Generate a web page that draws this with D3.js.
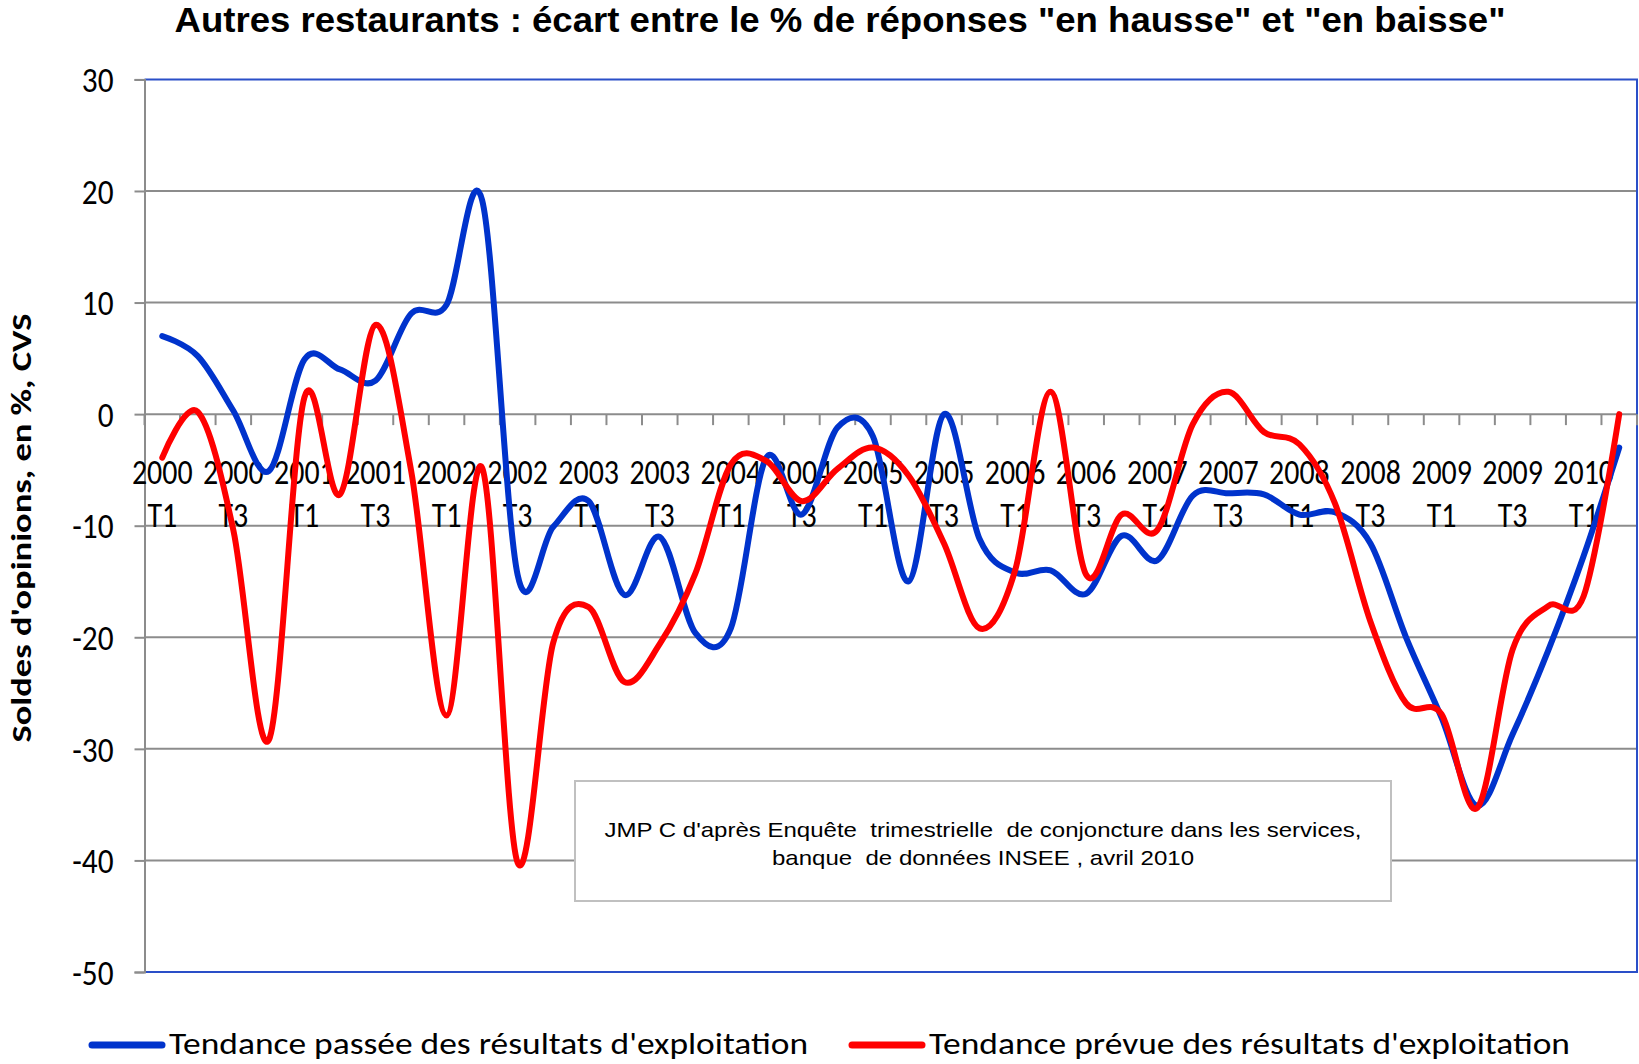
<!DOCTYPE html>
<html><head><meta charset="utf-8">
<script src="https://cdn.jsdelivr.net/npm/d3@7"></script>
<style>body{margin:0;background:#fff}svg{display:block}</style>
</head><body>
<svg id="c" width="1639" height="1064"></svg>
<script>
const categories = [
  "2000 T1","2000 T2","2000 T3","2000 T4","2001 T1","2001 T2","2001 T3","2001 T4",
  "2002 T1","2002 T2","2002 T3","2002 T4","2003 T1","2003 T2","2003 T3","2003 T4",
  "2004 T1","2004 T2","2004 T3","2004 T4","2005 T1","2005 T2","2005 T3","2005 T4",
  "2006 T1","2006 T2","2006 T3","2006 T4","2007 T1","2007 T2","2007 T3","2007 T4",
  "2008 T1","2008 T2","2008 T3","2008 T4","2009 T1","2009 T2","2009 T3","2009 T4",
  "2010 T1","2010 T2"];
const seriesNames = ["Tendance passée des résultats d'exploitation",
                     "Tendance prévue des résultats d'exploitation"];
const passee = [7.0, 5.2, 0.3, -5.1, 4.9, 4.0, 3.0, 9.0, 9.8, 19.2,
  -14.4, -10.1, -7.8, -16.2, -11.0, -19.6, -19.2, -3.9, -9.0, -1.2,
  -2.0, -15.0, 0.0, -11.2, -14.2, -14.0, -16.1, -10.9, -13.1, -7.3,
  -7.1, -7.2, -9.0, -8.8, -11.6, -20.0, -27.2, -35.1, -28.7, -21.2,
  -12.7, -3.0];
const prevue = [-3.9, 0.2, -10.4, -29.2, 1.5, -7.2, 8.0, -5.0, -27.0, -4.8,
  -40.2, -20.5, -17.3, -24.0, -20.6, -14.3, -4.5, -4.2, -7.8, -4.9,
  -3.0, -5.5, -11.6, -19.2, -14.0, 2.0, -14.4, -9.0, -10.4, -0.9,
  2.0, -1.6, -2.7, -8.0, -18.6, -25.9, -26.9, -35.3, -21.1, -17.2,
  -16.3, 0.0];
const yTicks = [30, 20, 10, 0, -10, -20, -30, -40, -50];
const titleText = "Autres restaurants : écart entre le % de réponses \"en hausse\" et \"en baisse\"";
const yTitleText = "Soldes d'opinions, en %, CVS";
const sourceLines = ["JMP C d'après Enquête\u00a0 trimestrielle\u00a0 de conjoncture dans les services,",
                     "banque\u00a0 de données INSEE , avril 2010"];
const colors = ["#0033cc", "#ff0000"];

const svg = d3.select("#c");
const L = 144.5, R = 1637, T = 79.4, B = 972;
const x = d3.scaleBand().domain(categories).range([L, R]).padding(0);
const y = d3.scaleLinear().domain([-50, 30]).range([B, T]);
const cx = c => x(c) + x.bandwidth() / 2;
const tickFont = "Carlito, Lato, sans-serif";
const squeeze = f => sel => sel.each(function () {
  const w = this.getComputedTextLength();
  d3.select(this).attr("textLength", w * f).attr("lengthAdjust", "spacingAndGlyphs");
});

// title
svg.append("text").attr("x", 840).attr("y", 32).attr("text-anchor", "middle")
  .attr("font-family", "Liberation Sans, Arial, sans-serif").attr("font-weight", "bold")
  .attr("font-size", 35).attr("textLength", 1331).attr("lengthAdjust", "spacingAndGlyphs")
  .text(titleText);

// gridlines
svg.append("g").selectAll("line").data(yTicks.filter(v => v !== 30 && v !== -50)).join("line")
  .attr("x1", L).attr("x2", R).attr("y1", d => y(d)).attr("y2", d => y(d))
  .attr("stroke", "#8c8c8c").attr("stroke-width", 2);

// plot border (blue)
svg.append("path").attr("d", `M${L},${y(30)}H${R}V${y(-50)}H${L}`)
  .attr("fill", "none").attr("stroke", "#2a4fc8").attr("stroke-width", 2);

// y axis
const yAxis = svg.append("g").attr("transform", `translate(${L},0)`)
  .call(d3.axisLeft(y).tickValues(yTicks).tickSize(10).tickPadding(21).tickFormat(d => String(d)));
yAxis.select(".domain").attr("stroke", "#8c8c8c").attr("stroke-width", 2);
yAxis.selectAll(".tick line").attr("stroke", "#8c8c8c").attr("stroke-width", 2);
yAxis.selectAll(".tick text").attr("font-family", tickFont).attr("font-size", 34)
  .attr("fill", "#000").attr("dy", "0.36em").call(squeeze(0.92));

// x axis ticks at category boundaries on the zero line
const boundaries = categories.map(c => x(c)).concat([R]);
svg.append("g").selectAll("line").data(boundaries).join("line")
  .attr("x1", d => d).attr("x2", d => d).attr("y1", y(0)).attr("y2", y(0) + 11)
  .attr("stroke", "#8c8c8c").attr("stroke-width", 2);

// x labels (every other quarter)
const xl = svg.append("g").attr("font-family", tickFont).attr("font-size", 34)
  .attr("text-anchor", "middle").attr("fill", "#000");
categories.forEach((c, i) => {
  if (i % 2 !== 0) return;
  const [yr, q] = c.split(" ");
  xl.append("text").attr("x", cx(c)).attr("y", 484).text(yr);
  xl.append("text").attr("x", cx(c)).attr("y", 527).text(q);
});
xl.selectAll("text").call(squeeze(0.88));

// y title
svg.append("text").attr("transform", "translate(31,528) rotate(-90)")
  .attr("text-anchor", "middle").attr("font-family", tickFont).attr("font-weight", "bold")
  .attr("font-size", 29).attr("textLength", 429).attr("lengthAdjust", "spacingAndGlyphs")
  .text(yTitleText);

// source box
svg.append("rect").attr("x", 575).attr("y", 781).attr("width", 816).attr("height", 120)
  .attr("fill", "#fff").attr("stroke", "#c0c0c0").attr("stroke-width", 2);
const src = svg.append("g").attr("font-family", "Liberation Sans, Arial, sans-serif")
  .attr("font-size", 21).attr("text-anchor", "middle").attr("fill", "#000");
src.append("text").attr("x", 983).attr("y", 837).attr("textLength", 757)
  .attr("lengthAdjust", "spacingAndGlyphs").text(sourceLines[0]);
src.append("text").attr("x", 983).attr("y", 865).attr("textLength", 422)
  .attr("lengthAdjust", "spacingAndGlyphs").text(sourceLines[1]);

// series lines
const line = d3.line().x((d, i) => cx(categories[i])).y(d => y(d))
  .curve(d3.curveCardinal.tension(0));
[passee, prevue].forEach((s, k) => {
  svg.append("path").datum(s).attr("d", line).attr("fill", "none")
    .attr("stroke", colors[k]).attr("stroke-width", 6)
    .attr("stroke-linejoin", "round").attr("stroke-linecap", "round");
});

// legend
const legend = [{x0: 92, x1: 162, tx: 169, tw: 639}, {x0: 852, x1: 922, tx: 929, tw: 641}];
legend.forEach((g, k) => {
  svg.append("line").attr("x1", g.x0).attr("x2", g.x1).attr("y1", 1045).attr("y2", 1045)
    .attr("stroke", colors[k]).attr("stroke-width", 7).attr("stroke-linecap", "round");
  svg.append("text").attr("x", g.tx).attr("y", 1054).attr("font-family", tickFont)
    .attr("font-size", 31).attr("textLength", g.tw).attr("lengthAdjust", "spacingAndGlyphs")
    .attr("fill", "#000").text(seriesNames[k]);
});
</script>
</body></html>
